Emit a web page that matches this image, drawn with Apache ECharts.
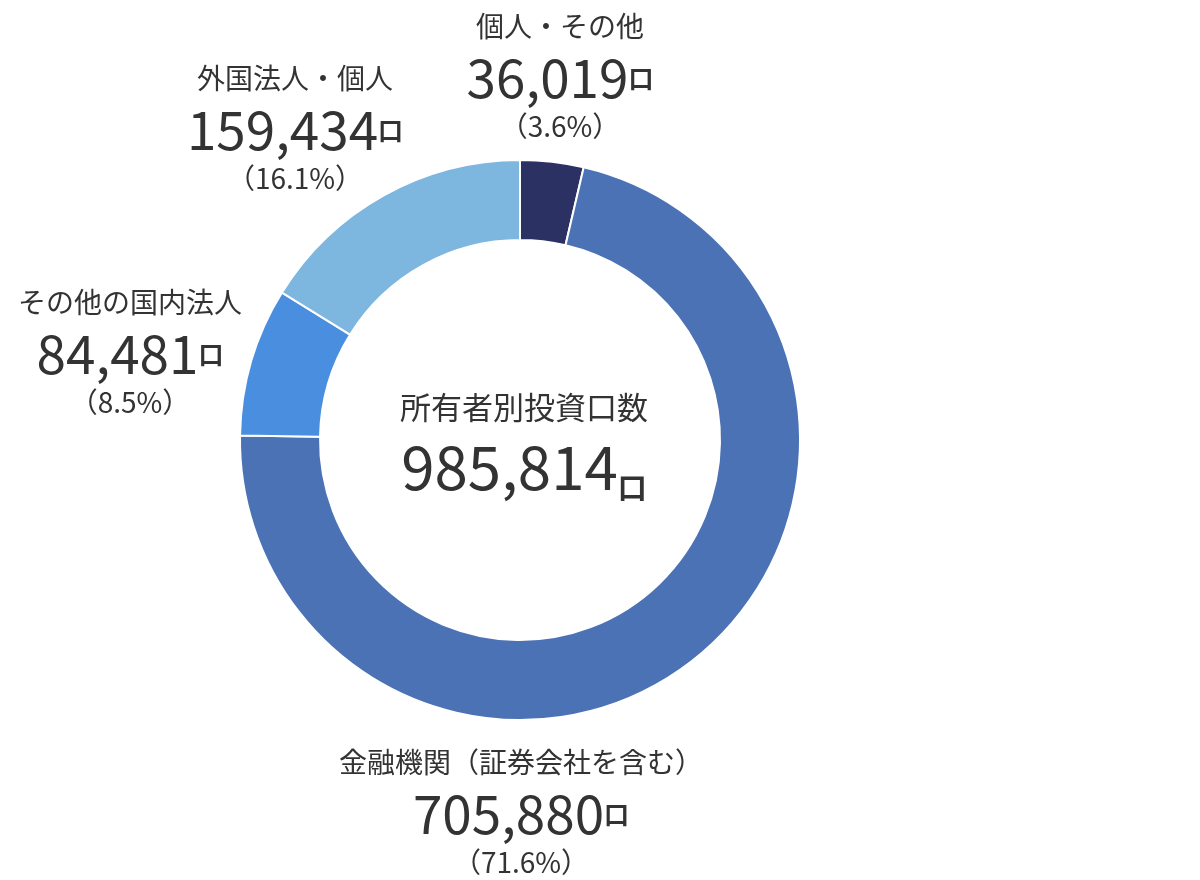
<!DOCTYPE html>
<html>
<head>
<meta charset="utf-8">
<script src="https://cdn.jsdelivr.net/npm/echarts@6/dist/echarts.min.js"></script>
<style>
html, body { margin: 0; padding: 0; background: #fff; }
#main { width: 1200px; height: 880px; }
</style>
</head>
<body>
<div id="main"></div>
<script>
// 所有者別投資口数
var names = ['個人・その他', '金融機関（証券会社を含む）', 'その他の国内法人', '外国法人・個人'];
var values = [36019, 705880, 84481, 159434];
var percents = ['3.6', '71.6', '8.5', '16.1'];
var colors = ['#2c3163', '#4a72b5', '#4a8fdf', '#7db6df'];

// ラベルの置き場所（中心x, 上端y）
var labelPos = [[560, 4], [521, 740], [130, 280], [295, 56]];

var total = values.reduce(function (a, b) { return a + b; }, 0);

function fmt(n) {
	return n.toString().replace(/\B(?=(\d{3})+(?!\d))/g, ',');
}

var pieData = names.map(function (n, i) {
	return { name: n, value: values[i], itemStyle: { color: colors[i] } };
});

var FONT = '"Noto Sans CJK JP"';
var myChart = echarts.init(document.getElementById('main'));
var option = {
	animation: false,
	textStyle: { fontFamily: FONT },
	title: {
		left: 519,
		top: 377,
		textAlign: 'center',
		text: '{a|所有者別投資口数}\n{b|' + fmt(total) + '}{u|口}',
		textStyle: {
			fontWeight: 'normal',
			rich: {
				a: { fontSize: 31, color: '#333', fontWeight: 'normal', lineHeight: 50, fontFamily: FONT },
				b: { fontSize: 60, color: '#333', fontWeight: 'normal', lineHeight: 70, fontFamily: FONT },
				u: { fontSize: 29, color: '#333', fontWeight: 'bold', lineHeight: 70, verticalAlign: 'bottom', fontFamily: FONT }
			}
		}
	},
	series: [{
		type: 'pie',
		center: [520, 440],
		radius: [200, 280],
		startAngle: 90,
		clockwise: true,
		avoidLabelOverlap: false,
		silent: true,
		itemStyle: { borderColor: '#fff', borderWidth: 2 },
		labelLine: { show: false },
		label: {
			show: true,
			formatter: function (p) {
				var i = p.dataIndex;
				return '{t|' + names[i] + '}\n{n|' + fmt(values[i]) + '}{u|口}\n{p|（' + percents[i] + '%）}';
			},
			align: 'center',
			rich: {
				t: { fontSize: 28, color: '#333', lineHeight: 44, align: 'center', fontFamily: FONT },
				n: { fontSize: 53, color: '#333', lineHeight: 60, fontFamily: FONT },
				u: { fontSize: 25, color: '#333', fontWeight: 'bold', lineHeight: 60, fontFamily: FONT },
				p: { fontSize: 28, color: '#333', lineHeight: 36, align: 'center', fontFamily: FONT }
			}
		},
		labelLayout: function (params) {
			var pos = labelPos[params.dataIndex];
			return { x: pos[0], y: pos[1], align: 'center', verticalAlign: 'top' };
		},
		data: pieData
	}]
};
myChart.setOption(option);
</script>
</body>
</html>
